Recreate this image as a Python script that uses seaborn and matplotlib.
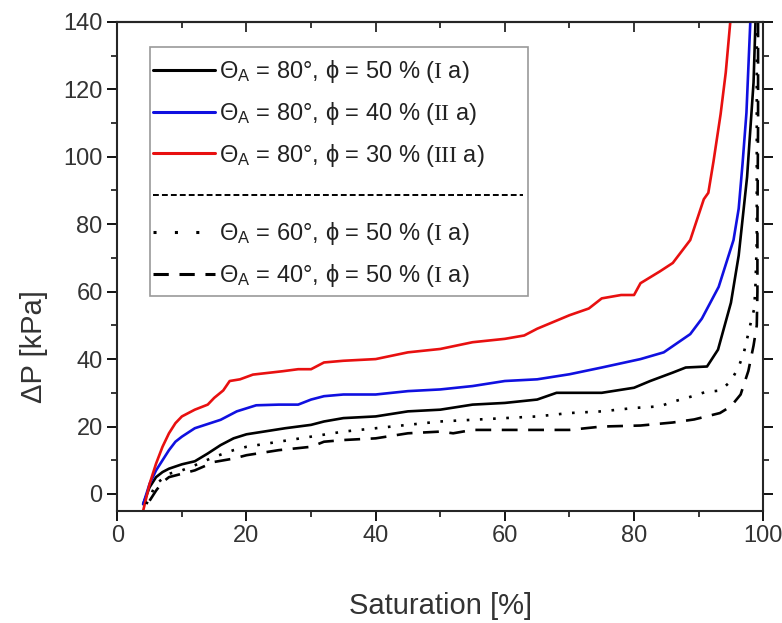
import numpy as np
import pandas as pd
import matplotlib
matplotlib.use('Agg')
import matplotlib.pyplot as plt
from matplotlib.lines import Line2D
from matplotlib.patches import Rectangle
from matplotlib.ticker import MultipleLocator
import seaborn as sns

# ── data ─────────────────────────────────────────────────────────
sat_80_50 = [4.0, 5.0, 6.0, 7.0, 8.0, 10.0, 12.0, 14.0, 16.0, 18.0, 20.0, 23.0, 26.0, 28.0,
             30.0, 32.0, 35.0, 40.0, 45.0, 50.0, 55.0, 60.0, 65.0, 68.0, 75.0, 80.0, 82.5,
             86.0, 88.0, 91.3, 93.0, 95.0, 96.2, 97.5, 98.5, 98.8]
dp_80_50 = [-3.0, 2.0, 5.0, 6.5, 7.5, 8.8, 9.7, 12.0, 14.5, 16.5, 17.7, 18.6, 19.5, 20.0,
            20.5, 21.5, 22.5, 23.0, 24.5, 25.0, 26.5, 27.0, 28.0, 30.0, 30.0, 31.5, 33.5,
            36.0, 37.5, 37.8, 42.8, 56.7, 70.7, 94.0, 122.0, 140.0]

sat_80_40 = [4.0, 5.0, 6.0, 7.0, 8.0, 9.0, 10.0, 12.0, 14.4, 16.0, 18.5, 21.5, 25.0, 28.0,
             30.0, 32.0, 35.0, 40.0, 45.0, 50.0, 55.0, 60.0, 65.0, 70.0, 75.0, 81.0, 84.6,
             88.7, 90.5, 93.1, 95.4, 96.2, 96.8, 97.4, 98.0]
dp_80_40 = [-3.0, 3.0, 7.0, 10.0, 13.0, 15.5, 17.0, 19.5, 21.0, 22.0, 24.5, 26.3, 26.5, 26.5,
            28.0, 29.0, 29.5, 29.5, 30.5, 31.0, 32.0, 33.5, 34.0, 35.5, 37.5, 40.0, 42.0,
            47.4, 52.0, 61.4, 75.3, 84.6, 98.0, 113.0, 140.0]

sat_80_30 = [4.0, 5.0, 6.0, 7.0, 8.0, 9.0, 10.0, 12.0, 14.0, 15.0, 16.4, 17.4, 19.0, 21.0,
             25.6, 28.0, 30.0, 32.0, 35.0, 40.0, 45.0, 50.0, 55.0, 60.0, 63.0, 65.0, 70.0,
             73.0, 75.0, 78.0, 80.0, 81.0, 84.0, 86.0, 88.7, 90.8, 91.5, 92.3, 93.4, 94.2,
             94.9]
dp_80_30 = [-5.0, 3.0, 9.0, 14.0, 18.0, 21.0, 23.0, 25.0, 26.5, 28.5, 30.7, 33.5, 34.0, 35.4,
            36.4, 37.0, 37.0, 39.0, 39.5, 40.0, 42.0, 43.0, 45.0, 46.0, 47.0, 49.0, 53.0,
            55.0, 58.0, 59.0, 59.0, 62.5, 66.0, 68.5, 75.3, 87.4, 89.3, 98.6, 112.6, 125.0,
            140.0]

sat_60_50 = [4.5, 5.5, 6.0, 8.0, 10.0, 12.0, 15.0, 18.0, 20.0, 25.0, 30.0, 35.0, 40.0, 45.0,
             50.0, 55.0, 60.0, 65.0, 70.0, 75.0, 80.0, 84.0, 86.1, 88.7, 91.0, 93.4, 95.0,
             96.2, 97.0, 97.5, 98.0, 98.6, 98.8, 99.0, 99.0, 99.0]
dp_60_50 = [-3.0, 1.0, 3.0, 6.0, 7.0, 8.5, 11.0, 13.0, 14.0, 15.5, 17.0, 18.5, 19.5, 20.5,
            21.5, 22.0, 22.5, 23.0, 24.0, 24.5, 25.5, 26.0, 27.4, 28.8, 30.2, 30.7, 33.5,
            37.7, 41.9, 46.0, 50.2, 54.9, 62.0, 75.0, 100.0, 140.0]

sat_40_50 = [5.0, 6.0, 7.0, 8.0, 10.0, 12.0, 15.0, 18.0, 20.0, 25.0, 30.0, 32.0, 35.0, 40.0,
             45.0, 50.0, 52.0, 55.0, 60.0, 65.0, 70.0, 75.0, 81.0, 86.0, 89.3, 93.3, 95.0,
             96.5, 97.7, 98.5, 99.0, 99.1, 99.1, 99.2, 99.2]
dp_40_50 = [-2.0, 1.0, 3.5, 5.0, 6.0, 7.0, 9.5, 10.5, 11.5, 13.0, 14.0, 15.5, 16.0, 16.5,
            18.0, 18.5, 18.0, 19.0, 19.0, 19.0, 19.0, 20.0, 20.3, 21.2, 22.1, 24.0, 26.0,
            29.5, 36.5, 44.0, 50.0, 60.0, 80.0, 110.0, 140.0]

labels = [r'Θ$_\mathsf{A}$ = 80°, ϕ = 50 % ($\mathrm{I}$ a)',
          r'Θ$_\mathsf{A}$ = 80°, ϕ = 40 % ($\mathrm{II}$ a)',
          r'Θ$_\mathsf{A}$ = 80°, ϕ = 30 % ($\mathrm{III}$ a)',
          r'Θ$_\mathsf{A}$ = 60°, ϕ = 50 % ($\mathrm{I}$ a)',
          r'Θ$_\mathsf{A}$ = 40°, ϕ = 50 % ($\mathrm{I}$ a)']

series = [(sat_80_50, dp_80_50, '#000000', '-', '-'),
          (sat_80_40, dp_80_40, '#1010e0', '-', '-'),
          (sat_80_30, dp_80_30, '#e81010', '-', '-'),
          (sat_60_50, dp_60_50, '#000000', (0, (1, 4)), (0, (1, 6))),
          (sat_40_50, dp_40_50, '#000000', (0, (6, 4)), (0, (5, 3.5)))]

# ── figure ───────────────────────────────────────────────────────
sns.set_style('ticks')
plt.rcParams['font.family'] = ['Liberation Sans', 'DejaVu Sans']
plt.rcParams['mathtext.fontset'] = 'custom'
plt.rcParams['mathtext.rm'] = 'Liberation Serif'
plt.rcParams['mathtext.sf'] = 'Liberation Sans'
plt.rcParams['mathtext.it'] = 'Liberation Sans:italic'

fig = plt.figure(figsize=(7.82, 6.23), dpi=100)
ax = fig.add_axes([0.150, 0.180, 0.826, 0.785])

handles = []
for (x, y, col, ls, hls), lab in zip(series, labels):
    df = pd.DataFrame({'x': x, 'y': y})
    sns.lineplot(data=df, x='x', y='y', ax=ax, color=col, linestyle=ls,
                 linewidth=1.9, estimator=None, sort=False)
    handles.append(Line2D([], [], color=col, linestyle=hls, linewidth=2.2))

ax.set_xlim(0, 100)
ax.set_ylim(-5, 140)
ax.xaxis.set_major_locator(MultipleLocator(20))
ax.xaxis.set_minor_locator(MultipleLocator(10))
ax.yaxis.set_major_locator(MultipleLocator(20))
ax.yaxis.set_minor_locator(MultipleLocator(10))
ax.tick_params(axis='both', which='major', direction='out', length=7, width=1.3,
               labelsize=17, colors='black', labelcolor='#333333')
ax.tick_params(axis='both', which='minor', direction='out', length=4, width=1.3)
ax.tick_params(axis='y', which='both', right=True)
for s in ax.spines.values():
    s.set_linewidth(1.5)
    s.set_visible(True)

top = ax.secondary_xaxis('top')
top.xaxis.set_major_locator(MultipleLocator(20))
top.xaxis.set_minor_locator(MultipleLocator(10))
top.tick_params(which='major', direction='in', length=7, width=1.3, labeltop=False)
top.tick_params(which='minor', direction='in', length=4, width=1.3)
top.spines['top'].set_linewidth(1.5)

ax.set_xlabel('Saturation [%]', fontsize=21, color='#333333', labelpad=32)
ax.set_ylabel('ΔP [kPa]', fontsize=21, color='#333333')
ax.yaxis.set_label_coords(-0.108, 0.335)

# legend box drawn by hand, legend itself without frame
ax.add_patch(Rectangle((0.0511, 0.440), 0.585, 0.509, transform=ax.transAxes,
                       facecolor='white', edgecolor='#999999', linewidth=1.2,
                       zorder=5))
blank = Line2D([], [], color='none')
leg_handles = handles[:3] + [blank] + handles[3:]
leg_labels = labels[:3] + [' '] + labels[3:]
leg = ax.legend(leg_handles, leg_labels, loc='upper left',
                bbox_to_anchor=(0.0557, 0.926), fontsize=17, frameon=False,
                handlelength=2.6, handletextpad=0.2, labelspacing=0.63,
                borderpad=0.0, borderaxespad=0.0)
leg.set_zorder(6)
for t in leg.get_texts():
    t.set_color('#222222')

fig.canvas.draw()
txts = leg.get_texts()
b2 = txts[2].get_window_extent()
b4 = txts[4].get_window_extent()
ymid = (b2.y0 + b2.y1 + b4.y0 + b4.y1) / 4.0
ymid_ax = ax.transAxes.inverted().transform((0, ymid))[1]
ax.add_line(Line2D([0.056, 0.628], [ymid_ax, ymid_ax], transform=ax.transAxes,
                   color='black', linestyle=(0, (3, 1.6)), linewidth=1.4, zorder=7))

fig.savefig('out.png', dpi=100)
